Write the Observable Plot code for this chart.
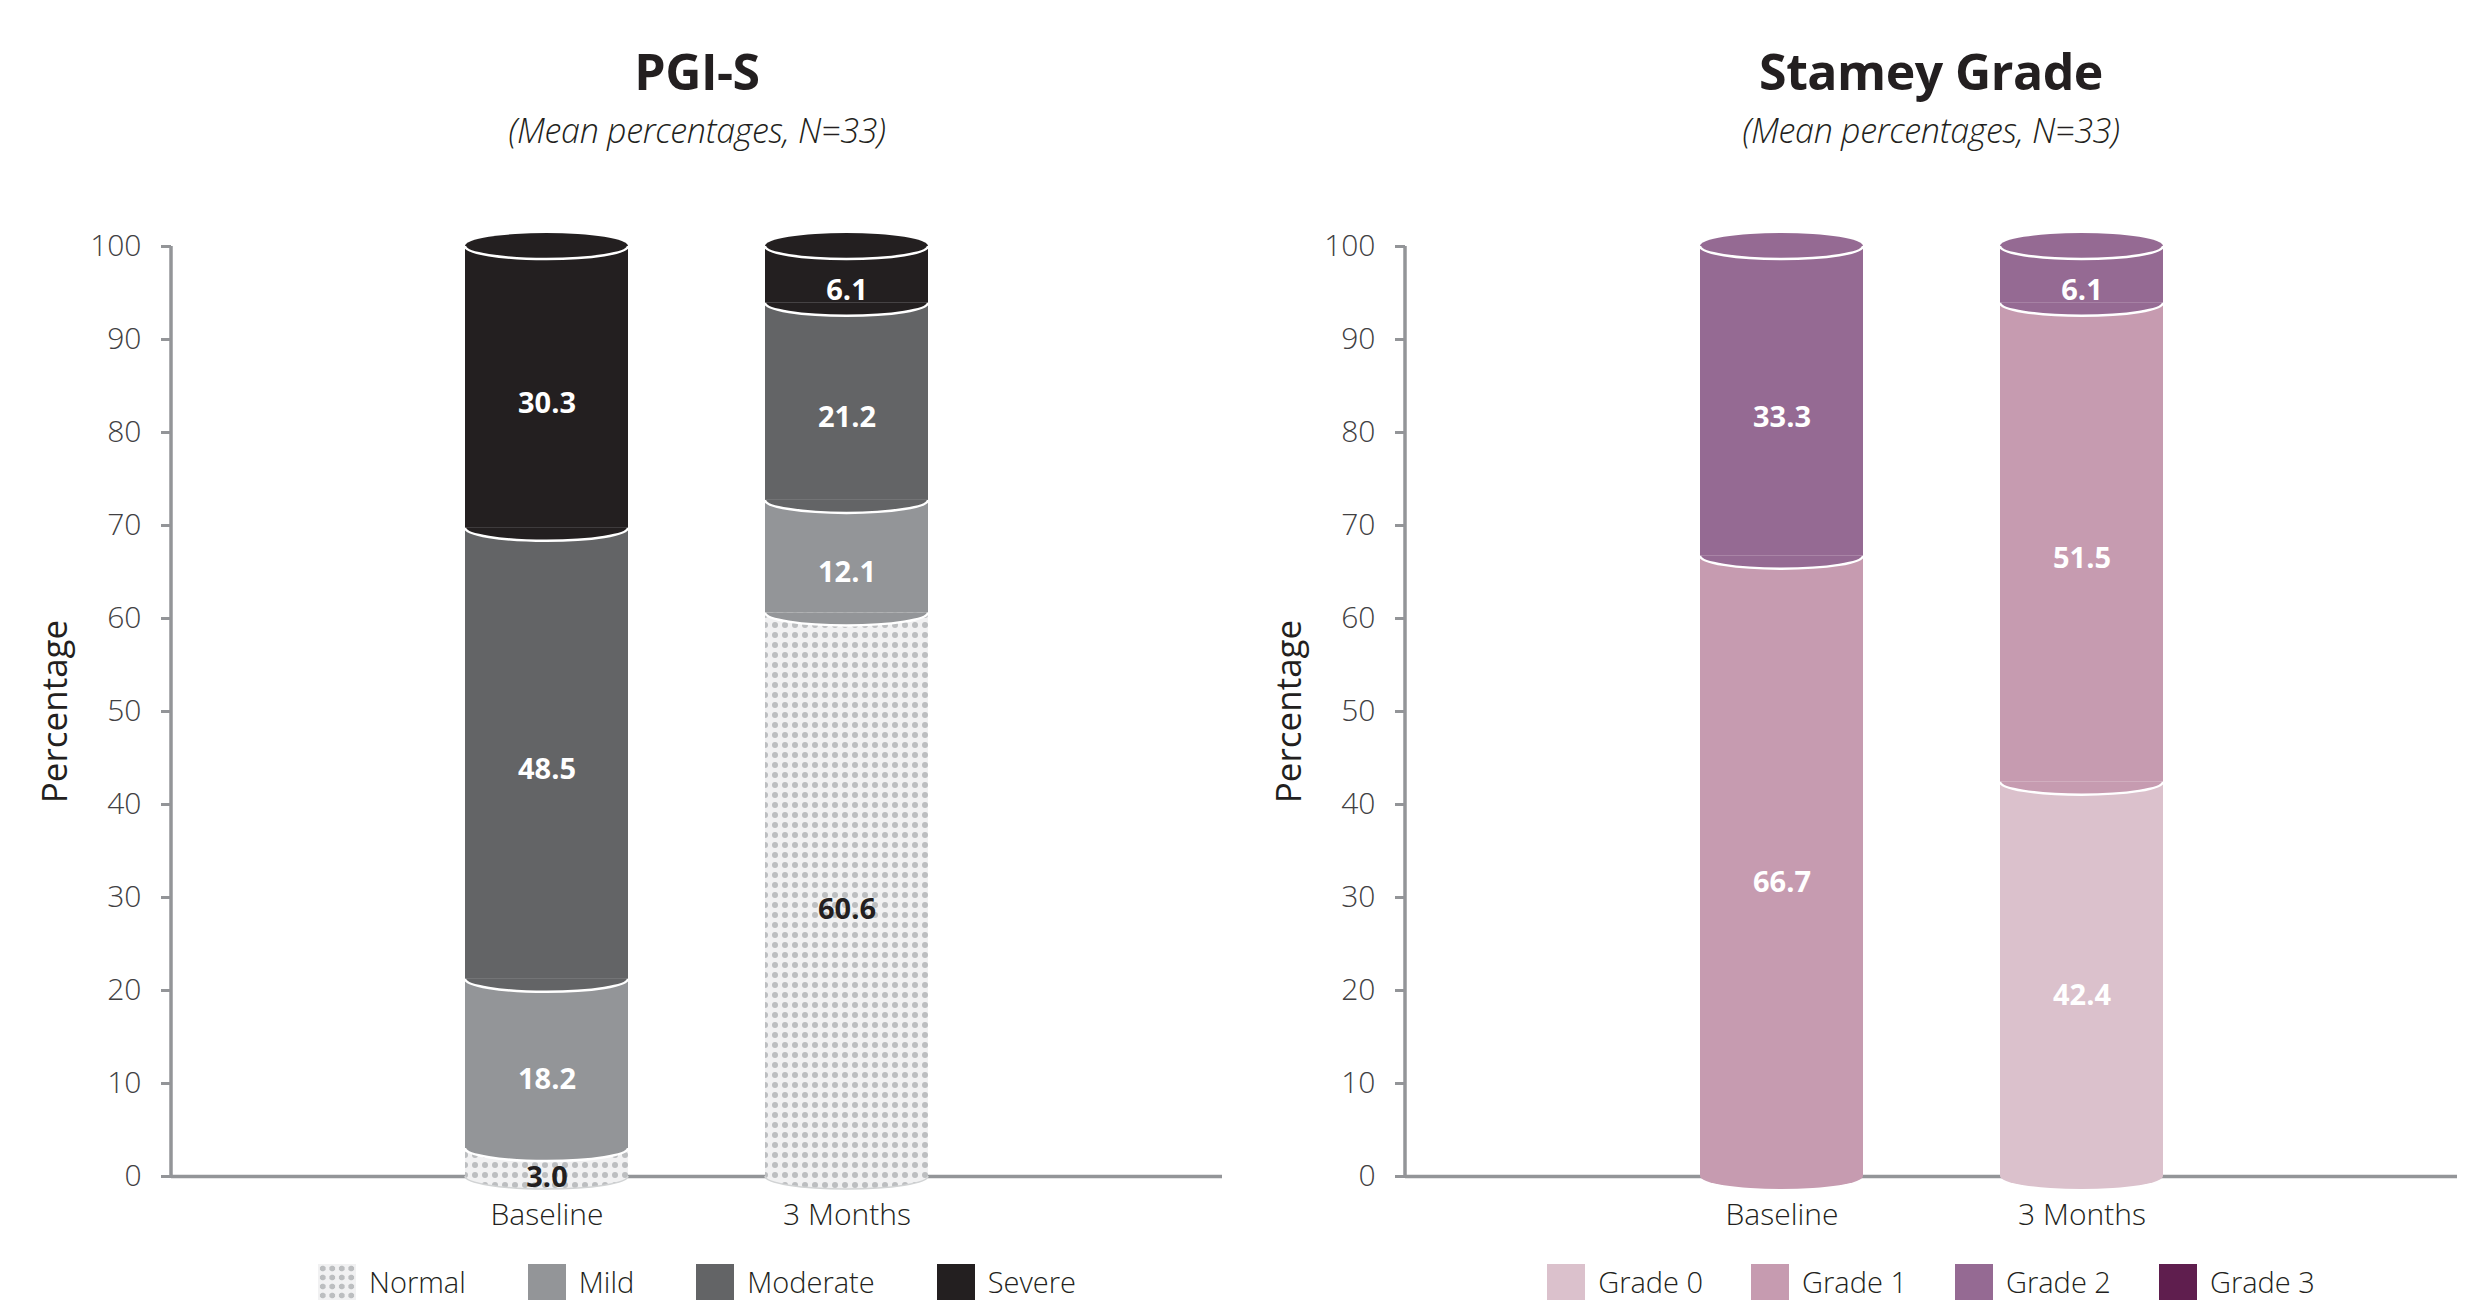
<!DOCTYPE html>
<html>
<head>
<meta charset="utf-8">
<script src="https://cdn.jsdelivr.net/npm/d3@7"></script>
<script src="https://cdn.jsdelivr.net/npm/@observablehq/plot@0.6"></script>
<style>
  html, body { margin: 0; padding: 0; background: #fff; }
  body { width: 2478px; height: 1300px; position: relative; overflow: hidden;
         font-family: "Open Sans", "Noto Sans", sans-serif; color: #231f20; }
  .panel { position: absolute; top: 0; height: 1300px; }
  .title { position: absolute; left: 297px; width: 800px; text-align: center;
           font-weight: 700; font-size: 50px; line-height: 60px; top: 41px; letter-spacing: -0.5px; }
  .subtitle { position: absolute; left: 297px; width: 800px; text-align: center;
              font-style: italic; font-weight: 300; font-size: 34px; line-height: 40px; top: 110px; letter-spacing: -0.3px; }
  .chart { position: absolute; top: 180px; left: 0; }
  .legend { position: absolute; top: 1264px; left: 97px; width: 1200px; height: 36px;
            display: flex; justify-content: center; align-items: center; gap: 62px; }
  #l2 { gap: 48px; }
  .item { display: flex; align-items: center; height: 36px; }
  .sw { width: 38px; height: 36px; margin-right: 13px; }
  .lt { font-size: 29px; font-weight: 300; line-height: 36px; }
</style>
</head>
<body>
<div class="panel" id="p1" style="left:0;width:1234px;">
  <div class="title">PGI-S</div>
  <div class="subtitle">(Mean percentages, N=33)</div>
  <div class="chart" id="c1"></div>
  <div class="legend" id="l1"></div>
</div>
<div class="panel" id="p2" style="left:1234px;width:1244px;">
  <div class="title">Stamey Grade</div>
  <div class="subtitle">(Mean percentages, N=33)</div>
  <div class="chart" id="c2"></div>
  <div class="legend" id="l2"></div>
</div>
<script>
// ---------------- data ----------------
const timepoints = ["Baseline", "3 Months"];
const yTicks = [0, 10, 20, 30, 40, 50, 60, 70, 80, 90, 100];

const pgiCategories = ["Normal", "Mild", "Moderate", "Severe"];
const pgiBaseline = [3.0, 18.2, 48.5, 30.3];
const pgi3Months = [60.6, 12.1, 21.2, 6.1];

const stameyCategories = ["Grade 0", "Grade 1", "Grade 2", "Grade 3"];
const stameyBaseline = [0, 66.7, 33.3, 0];
const stamey3Months = [42.4, 51.5, 6.1, 0];

// ---------------- styles ----------------
const pgiColors = ["url(#pgiDots)", "#939598", "#636466", "#231f20"];
const stameyColors = ["#dbc1cc", "#c69bb0", "#956a93", "#5f1e4e"];
const darkLabelCats = ["Normal"];
const RY = 13;

function buildRows(cats, series) {
  const rows = [];
  timepoints.forEach((t, i) => {
    let acc = 0;
    cats.forEach((c, j) => {
      const v = series[i][j];
      if (v > 0) rows.push({time: t, cat: c, v, y1: acc, y2: acc + v, mid: acc + v / 2, first: acc === 0});
      acc += v;
    });
  });
  return rows;
}

function findScales(args) {
  return args.find(a => a && typeof a === "object" && typeof a.x === "function" && typeof a.y === "function");
}
function findDims(args) {
  return args.find(a => a && typeof a === "object" && typeof a.marginLeft === "number" && typeof a.width === "number");
}

function patternMark() {
  return function () {
    const g = d3.create("svg:g");
    const p = g.append("defs").append("pattern")
      .attr("id", "pgiDots").attr("patternUnits", "userSpaceOnUse")
      .attr("width", 10).attr("height", 10);
    p.append("rect").attr("width", 10).attr("height", 10).attr("fill", "#f1f1f2");
    p.append("circle").attr("cx", 5).attr("cy", 5).attr("r", 3).attr("fill", "#bcbec0");
    return g.node();
  };
}

// vertical y-axis line from the domain bottom to top, at the frame's left edge
function yAxisLine() {
  return function (...args) {
    const s = findScales(args), dim = findDims(args);
    const [d0, d1] = s.y.domain();
    const g = d3.create("svg:g");
    g.append("line").attr("x1", dim.marginLeft).attr("x2", dim.marginLeft)
      .attr("y1", s.y(d0) + 1.75).attr("y2", s.y(d1))
      .attr("stroke", "#939598").attr("stroke-width", 3.5);
    return g.node();
  };
}

function cylinderMark(rows, bottomStroke) {
  return function (...args) {
    const s = findScales(args);
    const x = s.x, y = s.y, color = s.color;
    const bw = typeof x.bandwidth === "function" ? x.bandwidth() : s.scales.x.bandwidth;
    const g = d3.create("svg:g");
    for (const r of rows) {
      const cx = x(r.time) + bw / 2, rx = bw / 2, cy = y(r.y1);
      const arc = `M${cx - rx},${cy}A${rx},${RY} 0 0 0 ${cx + rx},${cy}`;
      g.append("path").attr("d", arc + "Z").attr("fill", color(r.cat));
      const st = r.first ? bottomStroke : "white";
      if (st) g.append("path").attr("d", arc).attr("fill", "none")
        .attr("stroke", st).attr("stroke-width", r.first ? 1.5 : 2.5);
    }
    for (const t of timepoints) {
      const seg = rows.filter(r => r.time === t);
      const top = seg[seg.length - 1];
      const cx = x(t) + bw / 2, rx = bw / 2, cy = y(top.y2);
      g.append("ellipse").attr("cx", cx).attr("cy", cy).attr("rx", rx).attr("ry", RY)
        .attr("fill", color(top.cat));
      g.append("path").attr("d", `M${cx - rx},${cy}A${rx},${RY} 0 0 0 ${cx + rx},${cy}`)
        .attr("fill", "none").attr("stroke", "white").attr("stroke-width", 2.5);
    }
    return g.node();
  };
}

function makeChart(el, cats, colors, series, width, marginRight, bottomStroke) {
  const rows = buildRows(cats, series);
  const chart = Plot.plot({
    width, height: 1060,
    marginLeft: 171, marginRight, marginTop: 66, marginBottom: 64,
    style: {fontFamily: "'Open Sans', 'Noto Sans', sans-serif", fontSize: "30px", color: "#231f20", background: "transparent"},
    x: {domain: timepoints, paddingInner: 0.457, paddingOuter: 0.98},
    y: {domain: [0, 100]},
    color: {domain: cats, range: colors},
    marks: [
      patternMark(),
      Plot.axisY({ticks: yTicks, tickSize: 10, tickPadding: 20, tickFormat: () => "", color: "#939598",
                  strokeWidth: 3, label: null}),
      Plot.axisY({ticks: yTicks, tickSize: 0, tickPadding: 30, color: "#414042", fontWeight: 300,
                  fontSize: 30, label: null}),
      yAxisLine(),
      Plot.ruleY([0], {stroke: "#939598", strokeWidth: 3.5}),
      Plot.axisX({tickSize: 0, tickPadding: 27, color: "#231f20", fontWeight: 300, fontSize: 30, label: null}),
      Plot.text(["Percentage"], {text: d => d, frameAnchor: "left", dx: -116, rotate: -90,
                 textAnchor: "middle", fontSize: 35, fill: "#231f20"}),
      Plot.barY(rows, {x: "time", y1: "y1", y2: "y2", fill: "cat"}),
      cylinderMark(rows, bottomStroke),
      Plot.text(rows.filter(r => !darkLabelCats.includes(r.cat)),
                {x: "time", y: "mid", text: r => r.v.toFixed(1), dy: 16, fill: "white",
                 fontSize: 29, fontWeight: "bold"}),
      Plot.text(rows.filter(r => darkLabelCats.includes(r.cat)),
                {x: "time", y: "mid", text: r => r.v.toFixed(1), dy: 15, fill: "#231f20",
                 fontSize: 29, fontWeight: "bold"})
    ]
  });
  document.getElementById(el).appendChild(chart);
}

function makeLegend(el, cats, colors) {
  const box = document.getElementById(el);
  cats.forEach((c, i) => {
    const it = document.createElement("div"); it.className = "item";
    const sw = document.createElement("div"); sw.className = "sw";
    if (colors[i].startsWith("url")) {
      sw.style.background = "radial-gradient(circle, #bcbec0 2.6px, transparent 3.2px) 0 0 / 9.5px 9px, #f1f1f2";
    } else sw.style.background = colors[i];
    const lt = document.createElement("div"); lt.className = "lt"; lt.textContent = c;
    it.appendChild(sw); it.appendChild(lt); box.appendChild(it);
  });
}

makeChart("c1", pgiCategories, pgiColors, [pgiBaseline, pgi3Months], 1234, 12, "#d1d3d4");
makeChart("c2", stameyCategories, stameyColors, [stameyBaseline, stamey3Months], 1244, 21, null);
makeLegend("l1", pgiCategories, pgiColors);
makeLegend("l2", stameyCategories, stameyColors);
</script>
</body>
</html>
